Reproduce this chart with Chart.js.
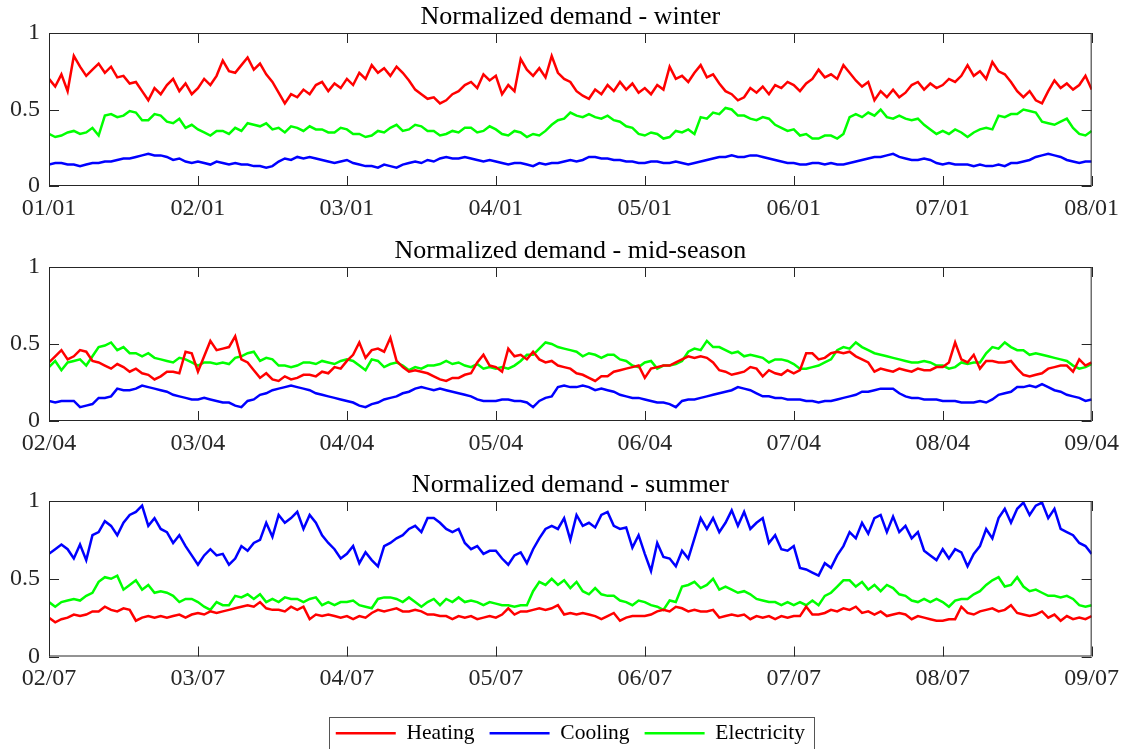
<!DOCTYPE html>
<html>
<head>
<meta charset="utf-8">
<script src="https://cdn.jsdelivr.net/npm/chart.js@4.4.1/dist/chart.umd.min.js"></script>
<style>
  html, body { margin: 0; padding: 0; background: #fff; overflow: hidden; }
  #wrap { position: relative; width: 1127px; height: 749px; overflow: hidden; }
  canvas { position: absolute; left: 0; }
</style>
</head>
<body>
<div id="wrap">
  <canvas id="winter" width="1127" height="234" style="top:0px"></canvas>
  <canvas id="mid" width="1127" height="234" style="top:234px"></canvas>
  <canvas id="summer" width="1127" height="286" style="top:468px"></canvas>
</div>
<script>
// hourly values, 0..168 h (one week per panel), one row per day
const winterTicks = ["01/01", "02/01", "03/01", "04/01", "05/01", "06/01", "07/01", "08/01"];
const midTicks = ["02/04", "03/04", "04/04", "05/04", "06/04", "07/04", "08/04", "09/04"];
const summerTicks = ["02/07", "03/07", "04/07", "05/07", "06/07", "07/07", "08/07", "09/07"];
const yTicks = ["0", "0.5", "1"];

const winterHeating = [
  0.70, 0.65, 0.73, 0.62, 0.85, 0.78, 0.72, 0.76, 0.80, 0.74, 0.78, 0.71, 0.72, 0.67, 0.68, 0.62, 0.56, 0.64, 0.60, 0.66, 0.70, 0.62, 0.67, 0.60,
  0.64, 0.70, 0.66, 0.72, 0.82, 0.75, 0.74, 0.79, 0.84, 0.76, 0.80, 0.73, 0.68, 0.61, 0.54, 0.60, 0.58, 0.63, 0.60, 0.66, 0.68, 0.62, 0.67, 0.64,
  0.70, 0.66, 0.74, 0.70, 0.79, 0.74, 0.77, 0.72, 0.78, 0.74, 0.69, 0.63, 0.60, 0.57, 0.58, 0.54, 0.56, 0.60, 0.62, 0.66, 0.68, 0.64, 0.73, 0.69,
  0.72, 0.60, 0.66, 0.62, 0.83, 0.76, 0.72, 0.77, 0.71, 0.85, 0.74, 0.70, 0.68, 0.62, 0.59, 0.57, 0.63, 0.60, 0.66, 0.62, 0.68, 0.63, 0.67, 0.61,
  0.64, 0.60, 0.66, 0.63, 0.78, 0.70, 0.72, 0.68, 0.74, 0.79, 0.71, 0.73, 0.67, 0.62, 0.60, 0.56, 0.58, 0.64, 0.61, 0.65, 0.60, 0.66, 0.64, 0.68,
  0.66, 0.62, 0.67, 0.70, 0.76, 0.71, 0.73, 0.70, 0.79, 0.74, 0.69, 0.65, 0.68, 0.56, 0.62, 0.58, 0.63, 0.58, 0.61, 0.66, 0.68, 0.63, 0.67, 0.64,
  0.66, 0.70, 0.68, 0.72, 0.79, 0.72, 0.75, 0.70, 0.81, 0.75, 0.73, 0.68, 0.62, 0.58, 0.62, 0.56, 0.54, 0.62, 0.69, 0.64, 0.67, 0.63, 0.66, 0.72,
  0.63
];
const winterCooling = [
  0.14, 0.15, 0.15, 0.14, 0.14, 0.13, 0.14, 0.15, 0.15, 0.16, 0.16, 0.17, 0.18, 0.18, 0.19, 0.20, 0.21, 0.20, 0.20, 0.19, 0.17, 0.18, 0.16, 0.15,
  0.16, 0.15, 0.14, 0.16, 0.15, 0.14, 0.15, 0.14, 0.14, 0.13, 0.13, 0.12, 0.13, 0.16, 0.18, 0.17, 0.19, 0.18, 0.19, 0.18, 0.17, 0.16, 0.15, 0.16,
  0.17, 0.15, 0.14, 0.13, 0.13, 0.12, 0.14, 0.13, 0.12, 0.14, 0.15, 0.16, 0.15, 0.17, 0.16, 0.18, 0.19, 0.18, 0.18, 0.19, 0.18, 0.17, 0.16, 0.17,
  0.16, 0.15, 0.14, 0.15, 0.15, 0.14, 0.13, 0.15, 0.14, 0.15, 0.15, 0.16, 0.17, 0.16, 0.17, 0.19, 0.19, 0.18, 0.18, 0.17, 0.17, 0.16, 0.16, 0.15,
  0.15, 0.16, 0.16, 0.15, 0.15, 0.16, 0.15, 0.14, 0.15, 0.16, 0.17, 0.18, 0.19, 0.19, 0.20, 0.19, 0.19, 0.20, 0.20, 0.19, 0.18, 0.17, 0.16, 0.15,
  0.15, 0.14, 0.14, 0.15, 0.15, 0.14, 0.15, 0.14, 0.14, 0.15, 0.16, 0.17, 0.18, 0.19, 0.19, 0.20, 0.21, 0.19, 0.18, 0.17, 0.17, 0.18, 0.17, 0.15,
  0.14, 0.15, 0.14, 0.14, 0.14, 0.13, 0.14, 0.13, 0.13, 0.14, 0.13, 0.15, 0.15, 0.16, 0.17, 0.19, 0.20, 0.21, 0.20, 0.19, 0.17, 0.16, 0.15, 0.16,
  0.16
];
const winterElectricity = [
  0.34, 0.32, 0.33, 0.35, 0.36, 0.34, 0.35, 0.38, 0.33, 0.46, 0.47, 0.45, 0.46, 0.49, 0.48, 0.43, 0.43, 0.47, 0.46, 0.42, 0.41, 0.44, 0.38, 0.40,
  0.37, 0.35, 0.33, 0.36, 0.36, 0.34, 0.38, 0.36, 0.41, 0.40, 0.39, 0.41, 0.37, 0.38, 0.35, 0.39, 0.38, 0.36, 0.39, 0.37, 0.37, 0.35, 0.35, 0.38,
  0.37, 0.34, 0.34, 0.32, 0.33, 0.36, 0.35, 0.38, 0.40, 0.36, 0.37, 0.40, 0.39, 0.36, 0.36, 0.33, 0.34, 0.36, 0.35, 0.38, 0.38, 0.35, 0.36, 0.39,
  0.37, 0.34, 0.33, 0.36, 0.35, 0.32, 0.34, 0.33, 0.36, 0.40, 0.43, 0.44, 0.48, 0.46, 0.45, 0.47, 0.45, 0.44, 0.46, 0.43, 0.42, 0.39, 0.38, 0.34,
  0.33, 0.35, 0.34, 0.31, 0.32, 0.36, 0.35, 0.37, 0.34, 0.45, 0.44, 0.48, 0.47, 0.51, 0.50, 0.46, 0.46, 0.44, 0.43, 0.45, 0.44, 0.40, 0.38, 0.36,
  0.37, 0.33, 0.34, 0.31, 0.31, 0.33, 0.33, 0.31, 0.34, 0.45, 0.47, 0.45, 0.48, 0.46, 0.50, 0.45, 0.44, 0.46, 0.44, 0.43, 0.44, 0.40, 0.37, 0.34,
  0.36, 0.34, 0.37, 0.35, 0.32, 0.35, 0.37, 0.38, 0.37, 0.46, 0.45, 0.47, 0.47, 0.50, 0.49, 0.48, 0.42, 0.41, 0.40, 0.42, 0.44, 0.38, 0.34, 0.33,
  0.36
];

const midHeating = [
  0.38, 0.42, 0.46, 0.40, 0.42, 0.46, 0.45, 0.39, 0.38, 0.36, 0.34, 0.37, 0.35, 0.32, 0.34, 0.31, 0.30, 0.27, 0.29, 0.32, 0.32, 0.31, 0.45, 0.44,
  0.32, 0.42, 0.52, 0.46, 0.47, 0.48, 0.55, 0.40, 0.38, 0.33, 0.28, 0.31, 0.27, 0.26, 0.29, 0.27, 0.28, 0.30, 0.30, 0.29, 0.32, 0.31, 0.35, 0.34,
  0.39, 0.43, 0.51, 0.41, 0.46, 0.47, 0.45, 0.54, 0.39, 0.35, 0.32, 0.33, 0.32, 0.31, 0.29, 0.27, 0.26, 0.28, 0.28, 0.30, 0.31, 0.38, 0.43, 0.36,
  0.35, 0.32, 0.47, 0.42, 0.43, 0.40, 0.45, 0.40, 0.38, 0.39, 0.36, 0.35, 0.34, 0.31, 0.30, 0.28, 0.26, 0.29, 0.29, 0.32, 0.33, 0.34, 0.35, 0.36,
  0.28, 0.34, 0.35, 0.36, 0.36, 0.38, 0.40, 0.42, 0.41, 0.42, 0.41, 0.38, 0.33, 0.32, 0.30, 0.31, 0.32, 0.35, 0.34, 0.29, 0.33, 0.31, 0.30, 0.33,
  0.31, 0.33, 0.44, 0.44, 0.40, 0.41, 0.44, 0.45, 0.44, 0.45, 0.42, 0.40, 0.38, 0.32, 0.34, 0.33, 0.32, 0.34, 0.33, 0.32, 0.34, 0.33, 0.33, 0.35,
  0.35, 0.38, 0.51, 0.40, 0.38, 0.43, 0.34, 0.39, 0.39, 0.38, 0.38, 0.39, 0.34, 0.30, 0.29, 0.30, 0.31, 0.34, 0.35, 0.36, 0.36, 0.32, 0.40, 0.36,
  0.38
];
const midCooling = [
  0.13, 0.12, 0.13, 0.13, 0.13, 0.09, 0.10, 0.11, 0.15, 0.15, 0.16, 0.21, 0.20, 0.20, 0.21, 0.23, 0.22, 0.21, 0.20, 0.19, 0.17, 0.16, 0.15, 0.14,
  0.14, 0.15, 0.14, 0.13, 0.12, 0.12, 0.10, 0.09, 0.13, 0.14, 0.17, 0.18, 0.20, 0.21, 0.22, 0.23, 0.22, 0.21, 0.20, 0.18, 0.17, 0.16, 0.15, 0.14,
  0.13, 0.12, 0.10, 0.09, 0.11, 0.12, 0.14, 0.15, 0.16, 0.18, 0.19, 0.21, 0.22, 0.21, 0.20, 0.21, 0.20, 0.19, 0.18, 0.17, 0.16, 0.14, 0.13, 0.13,
  0.13, 0.14, 0.14, 0.13, 0.13, 0.12, 0.09, 0.13, 0.15, 0.16, 0.22, 0.23, 0.22, 0.22, 0.23, 0.22, 0.20, 0.21, 0.20, 0.19, 0.17, 0.16, 0.15, 0.15,
  0.14, 0.13, 0.12, 0.12, 0.11, 0.09, 0.13, 0.14, 0.14, 0.15, 0.16, 0.17, 0.18, 0.19, 0.20, 0.22, 0.21, 0.20, 0.18, 0.16, 0.16, 0.15, 0.15, 0.14,
  0.14, 0.14, 0.13, 0.13, 0.12, 0.13, 0.13, 0.14, 0.15, 0.16, 0.17, 0.19, 0.19, 0.20, 0.21, 0.21, 0.21, 0.18, 0.16, 0.15, 0.15, 0.14, 0.14, 0.14,
  0.13, 0.13, 0.13, 0.12, 0.12, 0.12, 0.13, 0.12, 0.14, 0.17, 0.18, 0.19, 0.22, 0.22, 0.23, 0.22, 0.24, 0.22, 0.20, 0.19, 0.17, 0.16, 0.15, 0.13,
  0.14
];
const midElectricity = [
  0.35, 0.39, 0.33, 0.38, 0.39, 0.40, 0.36, 0.42, 0.48, 0.49, 0.51, 0.46, 0.48, 0.44, 0.44, 0.42, 0.44, 0.41, 0.40, 0.39, 0.38, 0.41, 0.40, 0.38,
  0.36, 0.38, 0.38, 0.37, 0.38, 0.37, 0.41, 0.42, 0.44, 0.45, 0.39, 0.41, 0.40, 0.36, 0.36, 0.35, 0.36, 0.38, 0.38, 0.37, 0.39, 0.38, 0.37, 0.39,
  0.40, 0.39, 0.36, 0.33, 0.40, 0.39, 0.35, 0.37, 0.38, 0.36, 0.33, 0.35, 0.34, 0.36, 0.36, 0.37, 0.39, 0.37, 0.38, 0.36, 0.35, 0.37, 0.34, 0.35,
  0.34, 0.35, 0.34, 0.36, 0.39, 0.43, 0.43, 0.47, 0.51, 0.50, 0.48, 0.47, 0.46, 0.45, 0.42, 0.44, 0.43, 0.41, 0.43, 0.43, 0.40, 0.39, 0.36, 0.35,
  0.38, 0.39, 0.34, 0.36, 0.36, 0.37, 0.39, 0.45, 0.47, 0.46, 0.52, 0.48, 0.48, 0.46, 0.44, 0.45, 0.42, 0.43, 0.42, 0.41, 0.38, 0.40, 0.40, 0.39,
  0.37, 0.34, 0.34, 0.35, 0.36, 0.38, 0.40, 0.46, 0.48, 0.47, 0.51, 0.48, 0.46, 0.44, 0.43, 0.42, 0.41, 0.40, 0.39, 0.38, 0.38, 0.39, 0.38, 0.36,
  0.36, 0.34, 0.35, 0.38, 0.37, 0.38, 0.38, 0.44, 0.48, 0.47, 0.51, 0.48, 0.46, 0.46, 0.43, 0.44, 0.43, 0.42, 0.41, 0.40, 0.39, 0.36, 0.34, 0.35,
  0.37
];

const summerHeating = [
  0.25, 0.22, 0.24, 0.25, 0.27, 0.26, 0.27, 0.29, 0.29, 0.32, 0.30, 0.29, 0.31, 0.30, 0.23, 0.25, 0.26, 0.25, 0.26, 0.25, 0.26, 0.27, 0.25, 0.27,
  0.28, 0.27, 0.29, 0.28, 0.29, 0.30, 0.31, 0.32, 0.33, 0.32, 0.35, 0.31, 0.30, 0.30, 0.29, 0.32, 0.30, 0.32, 0.24, 0.27, 0.26, 0.27, 0.26, 0.25,
  0.26, 0.24, 0.26, 0.25, 0.28, 0.30, 0.29, 0.30, 0.31, 0.29, 0.29, 0.30, 0.29, 0.27, 0.27, 0.26, 0.26, 0.24, 0.26, 0.25, 0.26, 0.24, 0.25, 0.26,
  0.25, 0.27, 0.31, 0.27, 0.29, 0.29, 0.30, 0.31, 0.30, 0.31, 0.33, 0.27, 0.28, 0.27, 0.28, 0.27, 0.26, 0.24, 0.26, 0.28, 0.23, 0.25, 0.26, 0.26,
  0.26, 0.27, 0.29, 0.30, 0.29, 0.32, 0.31, 0.29, 0.30, 0.29, 0.29, 0.30, 0.25, 0.26, 0.27, 0.26, 0.27, 0.24, 0.26, 0.25, 0.26, 0.24, 0.26, 0.25,
  0.26, 0.26, 0.32, 0.27, 0.27, 0.28, 0.30, 0.29, 0.31, 0.30, 0.32, 0.28, 0.29, 0.27, 0.29, 0.26, 0.27, 0.28, 0.27, 0.24, 0.26, 0.25, 0.24, 0.23,
  0.23, 0.24, 0.24, 0.32, 0.28, 0.27, 0.29, 0.30, 0.31, 0.29, 0.30, 0.33, 0.28, 0.27, 0.26, 0.27, 0.29, 0.25, 0.27, 0.23, 0.26, 0.24, 0.25, 0.24,
  0.26
];
const summerCooling = [
  0.66, 0.69, 0.72, 0.69, 0.63, 0.72, 0.62, 0.78, 0.80, 0.87, 0.84, 0.78, 0.86, 0.91, 0.93, 0.97, 0.84, 0.89, 0.82, 0.80, 0.73, 0.78, 0.71, 0.65,
  0.59, 0.65, 0.69, 0.65, 0.66, 0.59, 0.63, 0.71, 0.68, 0.73, 0.75, 0.86, 0.77, 0.91, 0.86, 0.89, 0.93, 0.82, 0.91, 0.86, 0.78, 0.73, 0.69, 0.63,
  0.66, 0.71, 0.60, 0.67, 0.62, 0.58, 0.71, 0.73, 0.76, 0.78, 0.82, 0.84, 0.80, 0.89, 0.89, 0.86, 0.82, 0.80, 0.82, 0.73, 0.69, 0.71, 0.66, 0.68,
  0.68, 0.63, 0.59, 0.65, 0.67, 0.60, 0.69, 0.76, 0.82, 0.84, 0.82, 0.89, 0.75, 0.91, 0.84, 0.86, 0.83, 0.91, 0.93, 0.84, 0.82, 0.83, 0.70, 0.78,
  0.66, 0.55, 0.73, 0.64, 0.63, 0.58, 0.68, 0.63, 0.76, 0.89, 0.82, 0.89, 0.80, 0.86, 0.94, 0.84, 0.93, 0.82, 0.86, 0.89, 0.73, 0.78, 0.69, 0.68,
  0.71, 0.57, 0.56, 0.54, 0.52, 0.60, 0.57, 0.65, 0.71, 0.80, 0.76, 0.86, 0.79, 0.89, 0.91, 0.80, 0.90, 0.80, 0.84, 0.76, 0.80, 0.68, 0.65, 0.62,
  0.69, 0.63, 0.69, 0.67, 0.58, 0.66, 0.71, 0.82, 0.76, 0.89, 0.95, 0.86, 0.95, 0.99, 0.91, 0.97, 0.99, 0.89, 0.95, 0.82, 0.80, 0.78, 0.73, 0.71,
  0.66
];
const summerElectricity = [
  0.35, 0.32, 0.35, 0.36, 0.37, 0.36, 0.39, 0.41, 0.48, 0.51, 0.50, 0.52, 0.43, 0.46, 0.49, 0.43, 0.46, 0.41, 0.42, 0.41, 0.39, 0.35, 0.37, 0.37,
  0.35, 0.32, 0.30, 0.35, 0.33, 0.33, 0.39, 0.38, 0.40, 0.37, 0.40, 0.35, 0.37, 0.35, 0.38, 0.37, 0.37, 0.35, 0.37, 0.38, 0.33, 0.35, 0.33, 0.35,
  0.35, 0.36, 0.33, 0.32, 0.31, 0.37, 0.38, 0.38, 0.37, 0.35, 0.38, 0.35, 0.32, 0.35, 0.37, 0.33, 0.37, 0.35, 0.38, 0.35, 0.36, 0.35, 0.33, 0.35,
  0.34, 0.33, 0.33, 0.32, 0.33, 0.33, 0.42, 0.48, 0.46, 0.50, 0.46, 0.49, 0.44, 0.48, 0.42, 0.40, 0.44, 0.40, 0.39, 0.39, 0.36, 0.35, 0.33, 0.36,
  0.35, 0.33, 0.32, 0.30, 0.36, 0.35, 0.45, 0.46, 0.48, 0.44, 0.46, 0.50, 0.43, 0.45, 0.43, 0.41, 0.42, 0.40, 0.37, 0.36, 0.35, 0.35, 0.33, 0.35,
  0.33, 0.35, 0.33, 0.36, 0.33, 0.39, 0.41, 0.45, 0.49, 0.49, 0.45, 0.48, 0.43, 0.46, 0.42, 0.46, 0.44, 0.40, 0.39, 0.36, 0.35, 0.37, 0.35, 0.37,
  0.35, 0.32, 0.36, 0.37, 0.37, 0.40, 0.42, 0.46, 0.49, 0.51, 0.45, 0.46, 0.51, 0.45, 0.42, 0.43, 0.41, 0.39, 0.39, 0.38, 0.39, 0.37, 0.33, 0.32,
  0.33
];

const serif = "'Liberation Serif', 'Times New Roman', serif";
const axisColor = "#262626";

function toPoints(values) {
  return values.map((v, i) => ({ x: i, y: v }));
}

// matlab style box with inward ticks, plus a border round the legend
const frame = {
  id: "frame",
  afterDatasetsDraw(chart) {
    const { ctx, chartArea: a, scales } = chart;
    ctx.save();
    ctx.strokeStyle = axisColor;
    ctx.lineWidth = 1;
    ctx.strokeRect(a.left + 0.5, a.top + 0.5, a.right - a.left - 1, a.bottom - a.top - 1);
    ctx.beginPath();
    scales.x.ticks.forEach((t) => {
      const px = Math.round(scales.x.getPixelForValue(t.value)) + 0.5;
      ctx.moveTo(px, a.bottom);
      ctx.lineTo(px, a.bottom - 10);
      ctx.moveTo(px, a.top);
      ctx.lineTo(px, a.top + 10);
    });
    scales.y.ticks.forEach((t) => {
      const py = Math.round(scales.y.getPixelForValue(t.value)) + 0.5;
      ctx.moveTo(a.left, py);
      ctx.lineTo(a.left + 10, py);
      ctx.moveTo(a.right, py);
      ctx.lineTo(a.right - 10, py);
    });
    ctx.stroke();
    ctx.restore();
  },
  afterDraw(chart) {
    if (!chart.options.plugins.legend.display) return;
    const boxes = chart.legend.legendHitBoxes;
    const first = boxes[0];
    const last = boxes[boxes.length - 1];
    const cy = first.top + first.height / 2;
    const { ctx } = chart;
    ctx.save();
    ctx.strokeStyle = "#555";
    ctx.lineWidth = 1;
    ctx.strokeRect(Math.round(first.left - 7) + 0.5, Math.round(cy - 16) + 0.5,
      Math.round(last.left + last.width - first.left + 16), 32);
    ctx.restore();
  },
};

function series(label, values, color) {
  return { label, data: toPoints(values), borderColor: color, backgroundColor: color, borderWidth: 2.5 };
}

function makeChart(id, title, tickLabels, heating, cooling, electricity, withLegend, axisHeight) {
  return new Chart(document.getElementById(id), {
    type: "line",
    data: {
      datasets: [
        series("Heating", heating, "#ff0000"),
        series("Cooling", cooling, "#0000ff"),
        series("Electricity", electricity, "#00ff00"),
      ],
    },
    options: {
      responsive: false,
      animation: false,
      devicePixelRatio: 1,
      layout: { padding: { left: 0, right: 34, top: 0, bottom: 0 } },
      elements: {
        line: { tension: 0 },
        point: { radius: 0 },
      },
      scales: {
        x: {
          type: "linear",
          min: 0,
          max: 168,
          grid: { display: false, drawTicks: false },
          border: { display: false },
          ticks: {
            stepSize: 24,
            autoSkip: false,
            maxRotation: 0,
            padding: 8,
            color: axisColor,
            font: { family: serif, size: 24 },
            callback: (v) => tickLabels[v / 24],
          },
          afterFit: (s) => { s.height = axisHeight; },
        },
        y: {
          min: 0,
          max: 1,
          grid: { display: false, drawTicks: false },
          border: { display: false },
          ticks: {
            stepSize: 0.5,
            padding: 9,
            color: axisColor,
            font: { family: serif, size: 24 },
            callback: (v) => yTicks[v * 2],
          },
          afterFit: (s) => { s.width = 49; },
        },
      },
      plugins: {
        title: {
          display: true,
          fullSize: false,
          text: title,
          color: "#000",
          font: { family: serif, size: 26, weight: "normal", lineHeight: 1 },
          padding: { top: 4, bottom: 3 },
        },
        legend: {
          display: withLegend,
          position: "bottom",
          fullSize: false,
          labels: {
            usePointStyle: true,
            pointStyle: "line",
            pointStyleWidth: 60,
            padding: 15,
            color: "#000",
            font: { family: serif, size: 21.5 },
          },
        },
        tooltip: { enabled: false },
      },
    },
    plugins: [frame],
  });
}

makeChart("winter", "Normalized demand - winter", winterTicks,
  winterHeating, winterCooling, winterElectricity, false, 48);
makeChart("mid", "Normalized demand - mid-season", midTicks,
  midHeating, midCooling, midElectricity, false, 47);
makeChart("summer", "Normalized demand - summer", summerTicks,
  summerHeating, summerCooling, summerElectricity, true, 51);
</script>
</body>
</html>
